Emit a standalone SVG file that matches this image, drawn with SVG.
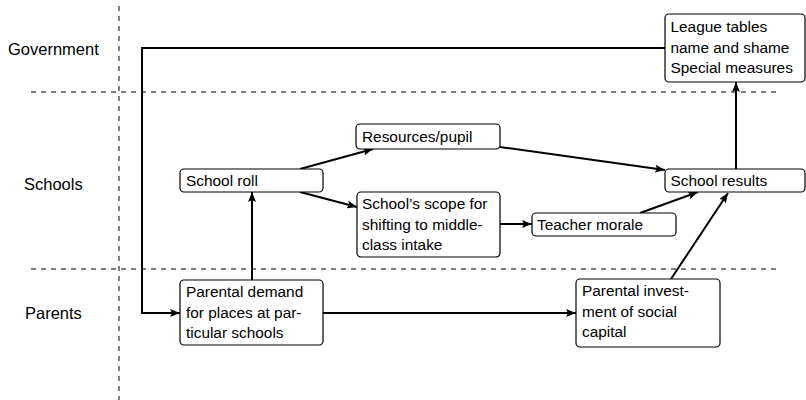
<svg xmlns="http://www.w3.org/2000/svg" width="806" height="400" viewBox="0 0 806 400">
  <style>
    .lane { stroke: #000; stroke-width: 1; stroke-dasharray: 5 5; fill: none; }
    .box { fill: #fff; stroke: #000; stroke-width: 1.2; }
    .txt { font-family: "Liberation Sans", Arial, Helvetica, sans-serif; font-size: 15.4px; fill: #000; }
    .row { font-family: "Liberation Sans", Arial, Helvetica, sans-serif; font-size: 16.5px; fill: #000; }
    .edge { stroke: #000; stroke-width: 2; fill: none; }
  </style>
  <defs>
    <marker id="arr" viewBox="0 0 10 8" refX="10" refY="4" markerWidth="10" markerHeight="8" markerUnits="userSpaceOnUse" orient="auto">
      <path d="M0,0 L10,4 L0,8 L2,4 Z" fill="#000"/>
    </marker>
  </defs>
  <rect width="806" height="400" fill="#fff"/>

  <!-- swimlane separators -->
  <g id="lanes">
    <line class="lane" x1="119" y1="6" x2="119" y2="400"/>
    <line class="lane" x1="31" y1="92" x2="780" y2="92"/>
    <line class="lane" x1="31" y1="269" x2="780" y2="269"/>
    <text class="row" x="8" y="55">Government</text>
    <text class="row" x="24" y="190">Schools</text>
    <text class="row" x="25" y="319">Parents</text>
  </g>

  <!-- connectors -->
  <g id="connectors">
    <polyline class="edge" points="665,48 142,48 142,313 180,313" marker-end="url(#arr)"/>
    <line class="edge" x1="252" y1="280" x2="252" y2="192" marker-end="url(#arr)"/>
    <line class="edge" x1="300" y1="169" x2="373" y2="149" marker-end="url(#arr)"/>
    <line class="edge" x1="300" y1="192" x2="357" y2="207" marker-end="url(#arr)"/>
    <line class="edge" x1="500" y1="147" x2="665" y2="170" marker-end="url(#arr)"/>
    <line class="edge" x1="500" y1="224" x2="532" y2="224" marker-end="url(#arr)"/>
    <line class="edge" x1="640" y1="213" x2="698" y2="192" marker-end="url(#arr)"/>
    <line class="edge" x1="671" y1="279" x2="728" y2="193" marker-end="url(#arr)"/>
    <line class="edge" x1="736" y1="169" x2="736" y2="82" marker-end="url(#arr)"/>
    <line class="edge" x1="323" y1="313" x2="576" y2="313" marker-end="url(#arr)"/>
  </g>

  <g id="league-tables">
    <rect class="box" x="665" y="14" width="140" height="68" rx="4"/>
    <text class="txt" x="670.5" y="32">League tables</text>
    <text class="txt" x="670.5" y="52.5">name and shame</text>
    <text class="txt" x="670.5" y="73">Special measures</text>
  </g>

  <g id="resources-pupil">
    <rect class="box" x="356" y="124" width="144" height="25" rx="4"/>
    <text class="txt" x="362" y="142">Resources/pupil</text>
  </g>

  <g id="school-roll">
    <rect class="box" x="180" y="169" width="143" height="23" rx="4"/>
    <text class="txt" x="186" y="186">School roll</text>
  </g>

  <g id="school-results">
    <rect class="box" x="665" y="169" width="140" height="23" rx="4"/>
    <text class="txt" x="670.5" y="186">School results</text>
  </g>

  <g id="school-scope">
    <rect class="box" x="357" y="192" width="143" height="65" rx="4"/>
    <text class="txt" x="362" y="209">School’s scope for</text>
    <text class="txt" x="362" y="230">shifting to middle-</text>
    <text class="txt" x="362" y="250">class intake</text>
  </g>

  <g id="teacher-morale">
    <rect class="box" x="532" y="213" width="144" height="23" rx="4"/>
    <text class="txt" x="537" y="230">Teacher morale</text>
  </g>

  <g id="parental-demand">
    <rect class="box" x="180" y="280" width="143" height="65" rx="4"/>
    <text class="txt" x="186" y="297">Parental demand</text>
    <text class="txt" x="186" y="317.5">for places at par-</text>
    <text class="txt" x="186" y="338">ticular schools</text>
  </g>

  <g id="parental-investment">
    <rect class="box" x="576" y="279" width="144" height="68" rx="4"/>
    <text class="txt" x="582" y="296">Parental invest-</text>
    <text class="txt" x="582" y="317">ment of social</text>
    <text class="txt" x="582" y="337">capital</text>
  </g>
</svg>
